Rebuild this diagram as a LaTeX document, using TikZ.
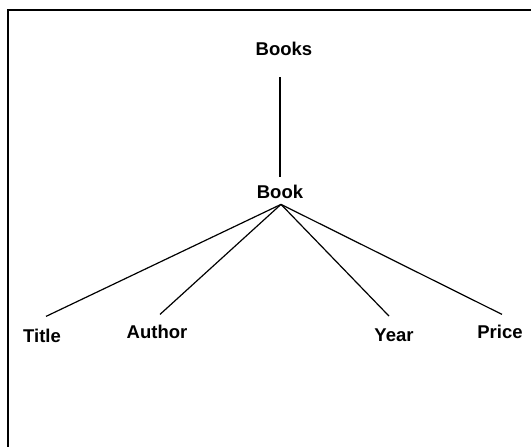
\documentclass[tikz,border=0pt]{standalone}
\usepackage{fontspec}
\setmainfont{Liberation Sans}
\begin{document}
\begin{tikzpicture}[x=1pt,y=-1pt,
  lbl/.style={font=\bfseries\fontsize{18.5}{18.5}\selectfont, inner sep=0pt, anchor=base},
  edge/.style={line width=1.2pt}]
\useasboundingbox (0,0) rectangle (531,447);
% frame (top and left sides)
\draw[line width=1.2pt] (531,10) -- (8,10) -- (8,447);
% labels
\node[lbl] (books)  at (284,55)  {Books};
\node[lbl] (book)   at (280,198) {Book};
\node[lbl] (title)  at (42,342)  {Title};
\node[lbl] (author) at (157,338) {Author};
\node[lbl] (year)   at (394,341) {Year};
\node[lbl] (price)  at (500,338) {Price};
% branch point under Book
\coordinate (hub) at ([xshift=1pt,yshift=-6pt]book.south);
% connectors
\draw[edge] ([xshift=-4pt,yshift=-22pt]books.south) -- ([yshift=7pt]book.north);
\draw[edge] (hub) -- ([xshift=4pt,yshift=12pt]title.north);
\draw[edge] (hub) -- ([xshift=3pt,yshift=10pt]author.north);
\draw[edge] (hub) -- ([xshift=-5pt,yshift=12pt]year.north);
\draw[edge] (hub) -- ([xshift=2pt,yshift=10pt]price.north);
\end{tikzpicture}
\end{document}
